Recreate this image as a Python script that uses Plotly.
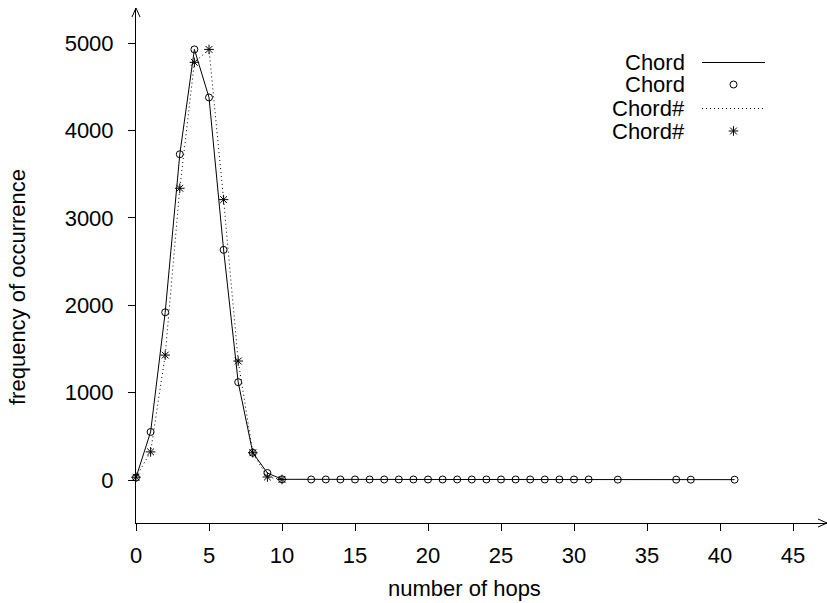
import plotly.graph_objects as go

# ---- data ----
chord_x = [0, 1, 2, 3, 4, 5, 6, 7, 8, 9, 10,
           12, 13, 14, 15, 16, 17, 18, 19, 20, 21, 22, 23, 24, 25, 26, 27, 28, 29, 30, 31,
           33, 37, 38, 41]
chord_y = [28, 550, 1920, 3730, 4930, 4380, 2635, 1120, 312, 80, 8,
           6, 6, 6, 6, 6, 6, 6, 6, 6, 6, 6, 6, 6, 6, 6, 6, 6, 6, 6, 6,
           4, 4, 4, 4]
chordh_x = [0, 1, 2, 3, 4, 5, 6, 7, 8, 9, 10]
chordh_y = [32, 322, 1430, 3340, 4782, 4930, 3210, 1362, 312, 34, 6]

x_ticks = [0, 5, 10, 15, 20, 25, 30, 35, 40, 45]
y_ticks = [0, 1000, 2000, 3000, 4000, 5000]
legend_labels = ["Chord", "Chord", "Chord#", "Chord#"]

FONT = "Liberation Sans, Arial, Helvetica, sans-serif"
FS = 22
W, H = 827, 603
ML, MR, MT, MB = 136, 0, 8, 80
PW, PH = W - ML - MR, H - MT - MB

fig = go.Figure()

fig.add_trace(go.Scatter(x=chord_x, y=chord_y, mode="lines",
                         line=dict(color="black", width=1), showlegend=False))
fig.add_trace(go.Scatter(x=chord_x, y=chord_y, mode="markers", cliponaxis=False,
                         marker=dict(symbol="circle-open", size=7, color="black",
                                     line=dict(width=1, color="black")),
                         showlegend=False))
fig.add_trace(go.Scatter(x=chordh_x, y=chordh_y, mode="lines",
                         line=dict(color="black", width=1, dash="1px,3px"), showlegend=False))
fig.add_trace(go.Scatter(x=chordh_x, y=chordh_y, mode="markers", cliponaxis=False,
                         marker=dict(symbol="asterisk-open", size=8, color="black",
                                     line=dict(width=1, color="black")),
                         showlegend=False))

# ---- legend drawn on a pixel-coordinate overlay axis ----
leg_rows = [62.5, 84.5, 108.5, 131]
leg_x0, leg_x1, leg_xm, leg_txt = 702, 765, 733.5, 687
fig.add_trace(go.Scatter(x=[leg_x0, leg_x1], y=[leg_rows[0]] * 2, mode="lines",
                         line=dict(color="black", width=1), xaxis="x2", yaxis="y2",
                         showlegend=False, hoverinfo="skip"))
fig.add_trace(go.Scatter(x=[leg_xm], y=[leg_rows[1]], mode="markers",
                         marker=dict(symbol="circle-open", size=7, color="black",
                                     line=dict(width=1, color="black")),
                         xaxis="x2", yaxis="y2", showlegend=False, hoverinfo="skip"))
fig.add_trace(go.Scatter(x=[leg_x0, leg_x1], y=[leg_rows[2]] * 2, mode="lines",
                         line=dict(color="black", width=1, dash="1px,3px"), xaxis="x2", yaxis="y2",
                         showlegend=False, hoverinfo="skip"))
fig.add_trace(go.Scatter(x=[leg_xm], y=[leg_rows[3]], mode="markers",
                         marker=dict(symbol="asterisk-open", size=8, color="black",
                                     line=dict(width=1, color="black")),
                         xaxis="x2", yaxis="y2", showlegend=False, hoverinfo="skip"))


def px2paper_x(px):
    return (px - ML) / PW


def px2paper_y(py):
    return (H - MB - py) / PH


annotations = []
for lab, ry in zip(legend_labels, leg_rows):
    annotations.append(dict(text=lab, xref="paper", yref="paper",
                            x=px2paper_x(leg_txt), y=px2paper_y(ry),
                            xanchor="right", yanchor="middle", showarrow=False,
                            font=dict(family=FONT, size=FS, color="black")))
annotations.append(dict(text="number of hops", xref="paper", yref="paper",
                        x=px2paper_x(464), y=px2paper_y(588), xanchor="center",
                        yanchor="middle", showarrow=False,
                        font=dict(family=FONT, size=FS, color="black")))
annotations.append(dict(text="frequency of occurrence", xref="paper", yref="paper",
                        x=px2paper_x(17), y=px2paper_y(287), xanchor="center",
                        yanchor="middle", showarrow=False, textangle=-90,
                        font=dict(family=FONT, size=FS, color="black")))

# arrowheads (open V) at axis ends
ax_len, ax_half = 9, 4
shapes = [
    dict(type="path", xref="paper", yref="paper",
         path=f"M {1 - ax_len / PW},{ax_half / PH} L 1,0 L {1 - ax_len / PW},{-ax_half / PH}",
         line=dict(color="black", width=1)),
    dict(type="path", xref="paper", yref="paper",
         path=f"M {-ax_half / PW},{1 - ax_len / PH} L 0,1 L {ax_half / PW},{1 - ax_len / PH}",
         line=dict(color="black", width=1)),
]

px_per_x = 14.6
y0_px, y5000_px = 480, 43.3
frac0 = (H - MB - y0_px) / PH
frac5 = (H - MB - y5000_px) / PH
yspan = 5000 / (frac5 - frac0)
ylo = -frac0 * yspan
yhi = ylo + yspan

fig.update_layout(
    width=W, height=H,
    margin=dict(l=ML, r=MR, t=MT, b=MB, pad=0),
    paper_bgcolor="white", plot_bgcolor="white",
    font=dict(family=FONT, size=FS, color="black"),
    xaxis=dict(range=[0, PW / px_per_x], tickvals=x_ticks, ticktext=[str(v) for v in x_ticks],
               showline=True, linecolor="black", linewidth=1, showgrid=False, zeroline=False,
               ticks="outside", ticklen=7, tickwidth=1, tickcolor="black",
               tickfont=dict(family=FONT, size=FS, color="black"), ticklabelstandoff=6),
    yaxis=dict(range=[ylo, yhi], tickvals=y_ticks, ticktext=[str(v) for v in y_ticks],
               showline=True, linecolor="black", linewidth=1, showgrid=False, zeroline=False,
               ticks="outside", ticklen=7, tickwidth=1, tickcolor="black",
               tickfont=dict(family=FONT, size=FS, color="black"), ticklabelstandoff=10),
    xaxis2=dict(overlaying="x", range=[ML, W - MR], visible=False, fixedrange=True),
    yaxis2=dict(overlaying="y", range=[H - MB, MT], visible=False, fixedrange=True),
    annotations=annotations,
    shapes=shapes,
)

fig.write_html("out.html", config={"displayModeBar": False},
               post_script="document.body.style.margin='0';")
